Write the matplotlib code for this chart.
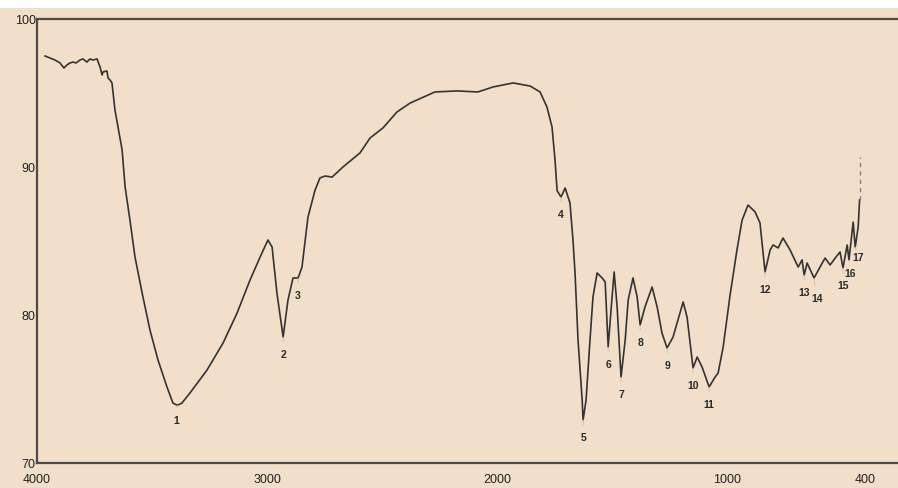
import numpy as np
import matplotlib
matplotlib.use("Agg")
import matplotlib.pyplot as plt
from matplotlib.patches import Rectangle

# ---- data ----
wavenumber = [3965, 3943, 3922, 3900, 3883, 3870, 3857, 3843, 3830, 3813,
              3800, 3783, 3770, 3757, 3739, 3726, 3717, 3713, 3696, 3691,
              3683, 3674, 3661, 3630, 3617, 3596, 3574, 3543, 3509, 3474,
              3435, 3409, 3390, 3370, 3335, 3261, 3191, 3130, 3074, 3030,
              2996, 2978, 2957, 2930, 2909, 2887, 2865, 2848, 2822, 2791,
              2770, 2748, 2717, 2670, 2596, 2552, 2496, 2435, 2378, 2270,
              2174, 2083, 2017, 1930, 1856, 1813, 1783, 1761, 1748, 1739,
              1722, 1704, 1683, 1670, 1661, 1648, 1630, 1626, 1613, 1596,
              1583, 1565, 1543, 1530, 1517, 1500, 1491, 1478, 1461, 1443,
              1430, 1409, 1391, 1378, 1357, 1326, 1304, 1283, 1261, 1235,
              1191, 1174, 1148, 1130, 1109, 1078, 1052, 1039, 1017, 987,
              957, 935, 909, 878, 857, 835, 813, 800, 778, 757,
              726, 691, 674, 665, 652, 622, 596, 574, 552, 530,
              509, 496, 478, 470, 452, 443, 430, 424]
transmittance = [97.50, 97.36, 97.23, 97.03, 96.69, 96.89, 97.03, 97.09, 97.03, 97.23,
                 97.30, 97.09, 97.30, 97.23, 97.30, 96.76, 96.22, 96.42, 96.49, 96.01,
                 95.88, 95.68, 93.85, 91.15, 88.65, 86.42, 83.92, 81.49, 78.99, 76.96,
                 75.14, 74.05, 73.90, 74.05, 74.73, 76.28, 78.11, 80.14, 82.36, 83.92,
                 85.07, 84.59, 81.49, 78.51, 81.01, 82.50, 82.50, 83.24, 86.62, 88.45,
                 89.26, 89.39, 89.32, 90.00, 90.95, 91.96, 92.64, 93.72, 94.32, 95.07,
                 95.14, 95.07, 95.41, 95.68, 95.47, 95.07, 94.05, 92.70, 90.47, 88.40,
                 87.97, 88.58, 87.57, 85.07, 82.84, 78.31, 74.26, 72.91, 74.26, 78.31,
                 81.22, 82.84, 82.50, 82.23, 77.84, 81.22, 82.91, 80.54, 75.81, 78.31,
                 81.01, 82.50, 81.22, 79.32, 80.54, 81.89, 80.54, 78.78, 77.77, 78.51,
                 80.88, 79.86, 76.42, 77.16, 76.49, 75.14, 75.81, 76.08, 77.84, 81.35,
                 84.40, 86.40, 87.43, 86.96, 86.22, 82.91, 84.39, 84.73, 84.53, 85.20,
                 84.39, 83.24, 83.72, 82.70, 83.51, 82.50, 83.24, 83.85, 83.38, 83.85,
                 84.26, 83.18, 84.73, 83.72, 86.28, 84.59, 85.95, 87.77]

# dashed end segment at the low-wavenumber end
end_wn = [424, 424]
end_t = [87.77, 90.70]

peak_labels = ["1", "2", "3", "4", "5", "6", "7", "8", "9", "10",
               "11", "12", "13", "14", "15", "16", "17"]
peak_wn = [3390, 2930, 2865, 1722, 1626, 1517, 1461, 1378, 1261, 1148,
           1078, 835, 665, 622, 496, 470, 443]

x_ticks = [4000, 3000, 2000, 1000, 400]
y_ticks = [70, 80, 90, 100]

# ---- figure ----
bg = "#f1dfca"
W, H = 898, 488
fig = plt.figure(figsize=(W / 100, H / 100), dpi=100, facecolor=bg)
ax = fig.add_axes([37 / W, 1 - 463 / H, 1 - 37 / W, (463 - 19) / H])
ax.set_facecolor(bg)

ax.plot(wavenumber, transmittance, color="#333333", lw=1.2, solid_joinstyle="round")
ax.plot(end_wn, end_t, color="#8a8078", lw=1.0, ls=(0, (3, 3)))

wn_arr = np.array(wavenumber)[::-1]
t_arr = np.array(transmittance)[::-1]
offsets = {"14": (2, -2), "16": (1, 3), "17": (2, 5), "1": (-1, 2)}
for lab, w in zip(peak_labels, peak_wn):
    t = float(np.interp(w, wn_arr, t_arr))
    dx, dy = offsets.get(lab, (0, 0))
    ax.annotate(lab, xy=(w, t), xytext=(dx, -13 + dy), textcoords="offset points",
                ha="center", va="center", fontsize=7.5, color="#2a2a2a",
                family="Liberation Sans", fontweight="bold",
                arrowprops=dict(arrowstyle="-", color="#cdbba8", lw=0.6,
                                shrinkA=4, shrinkB=0))

ax.set_xlim(4000, 257)
ax.set_ylim(70, 100)
ax.set_xticks(x_ticks)
ax.set_yticks(y_ticks)
ax.set_xticklabels([str(v) for v in x_ticks])
ax.set_yticklabels([str(v) for v in y_ticks])
ax.tick_params(axis="both", length=0, labelsize=9, labelcolor="#222222")
ax.tick_params(axis="x", pad=8)
ax.tick_params(axis="y", pad=1)
for lbl in ax.get_xticklabels() + ax.get_yticklabels():
    lbl.set_family("Liberation Sans")

for side in ("left", "top", "bottom"):
    ax.spines[side].set_color("#4a4a4a")
    ax.spines[side].set_linewidth(1.6)
ax.spines["right"].set_visible(False)

# white strip at the very top of the scan
fig.patches.append(Rectangle((0, 1 - 8 / H), 1, 8 / H, transform=fig.transFigure,
                             facecolor="white", edgecolor="none", zorder=-1))

fig.savefig("out.png", dpi=100, facecolor=bg)
